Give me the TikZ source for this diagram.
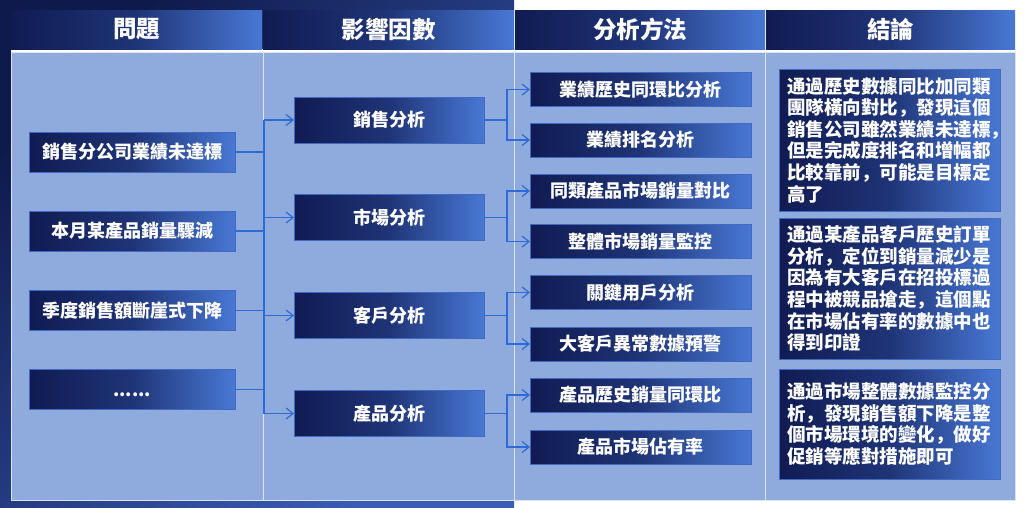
\documentclass[tikz,border=0pt]{standalone}
\usepackage{fontspec}
\setmainfont{Noto Sans CJK SC}
\usetikzlibrary{arrows.meta}
\definecolor{bgdark}{HTML}{0F1A4C}
\definecolor{bglight}{HTML}{3A5DB5}
\definecolor{navy}{HTML}{101B52}
\definecolor{midb}{HTML}{1F3477}
\definecolor{lightb}{HTML}{4878D4}
\definecolor{bodyc}{HTML}{8FAADC}
\definecolor{edgec}{HTML}{4169C4}
\definecolor{connc}{HTML}{2D6BD6}
\definecolor{divc}{HTML}{DCE4F4}
\newcommand{\bodyfont}{\fontsize{18}{21.6}\selectfont\bfseries}
\newcommand{\notefont}{\fontsize{18.5}{21.6}\selectfont\bfseries}
\newcommand{\hdrfont}{\fontsize{23.5}{26}\selectfont\bfseries}
\tikzset{
  boxnode/.style={draw=edgec, line width=0.8pt, left color=navy, right color=lightb, middle color=midb,
    text=white, font=\bodyfont, inner sep=0pt, outer sep=0pt},
  hdrnode/.style={boxnode, draw=none, font=\hdrfont, minimum height=39pt},
  probnode/.style={boxnode, minimum width=206pt, minimum height=40pt},
  factnode/.style={boxnode, minimum width=190pt, minimum height=46pt},
  methnode/.style={boxnode, minimum width=221pt, minimum height=34pt},
  notenode/.style={boxnode, minimum width=221pt, font=\notefont, text width=205pt, align=left},
  conn/.style={draw=connc, line width=1.2pt},
  arr/.style={conn, -{Straight Barb[length=7pt,width=11pt]}},
  divline/.style={draw=divc, line width=1pt}
}
\begin{document}
\begin{tikzpicture}[x=1pt,y=-1pt]
\useasboundingbox (0,0) rectangle (1024,507);
\fill[white] (0,0) rectangle (1024,507);
\shade[top color=bgdark, bottom color=bglight, shading angle=45] (0,0) rectangle (514,507);
% table body
\fill[bodyc] (11,52) rectangle (1015,500);
\fill[white] (11,49) rectangle (1015,52);
% headers
\node[hdrnode, minimum width=251pt] (h1) at (136.5,29.5) {問題};
\node[hdrnode, minimum width=251pt] (h2) at (388.5,29.5) {影響因數};
\node[hdrnode, minimum width=250pt] (h3) at (640,29.5) {分析方法};
\node[hdrnode, minimum width=249pt] (h4) at (890.5,29.5) {結論};
% dividers
\draw[divline] (263,52) -- (263,500);
\draw[divline] (514.5,10) -- (514.5,500);
\draw[divline] (765.5,52) -- (765.5,500);
\draw[divline] (11,52) rectangle (1015,500);
% column 1
\node[probnode] (p1) at (132,152) {銷售分公司業績未達標};
\node[probnode] (p2) at (132,231) {本月某產品銷量驟減};
\node[probnode] (p3) at (132,310.5) {季度銷售額斷崖式下降};
\node[probnode] (p4) at (132,389.5) {\vphantom{銷}......};
% column 2
\node[factnode] (f1) at (389,120) {銷售分析};
\node[factnode] (f2) at (389,217.5) {市場分析};
\node[factnode] (f3) at (389,315.5) {客戶分析};
\node[factnode] (f4) at (389,413.5) {產品分析};
% column 3
\node[methnode] (m1) at (640.5,89.5) {業績歷史同環比分析};
\node[methnode] (m2) at (640.5,140) {業績排名分析};
\node[methnode] (m3) at (640.5,191) {同類產品市場銷量對比};
\node[methnode] (m4) at (640.5,241.5) {整體市場銷量監控};
\node[methnode] (m5) at (640.5,292.5) {關鍵用戶分析};
\node[methnode] (m6) at (640.5,344) {大客戶異常數據預警};
\node[methnode] (m7) at (640.5,395) {產品歷史銷量同環比};
\node[methnode] (m8) at (640.5,447) {產品市場佔有率};
% column 4
\node[notenode, minimum height=142pt] (c1) at (889.5,140) {通過歷史數據同比加同類\\團隊橫向對比，發現這個\\銷售公司雖然業績未達標\makebox[0.4em][l]{，}\\但是完成度排名和增幅都\\比較靠前，可能是目標定\\高了};
\node[notenode, minimum height=141pt] (c2) at (889.5,288.5) {通過某產品客戶歷史訂單\\分析，定位到銷量減少是\\因為有大客戶在招投標過\\程中被競品搶走，這個點\\在市場佔有率的數據中也\\得到印證};
\node[notenode, minimum height=110pt] (c3) at (889.5,424) {通過市場整體數據監控分\\析，發現銷售額下降是整\\個市場環境的變化，做好\\促銷等應對措施即可};
% bus coordinates
\coordinate (bus) at (264,0);
\coordinate (br) at (507,0);
% col1 -> bus
\foreach \p in {p1,p2,p3,p4} \draw[conn] (\p.east) -- (\p.east -| bus);
\draw[conn] (f1.west -| bus) -- (f4.west -| bus);
\foreach \f in {f1,f2,f3,f4} \draw[arr] (\f.west -| bus) -- (\f.west);
% col2 -> col3
\draw[conn] (f1.east) -- (f1.east -| br);
\draw[arr] (f1.east -| br) |- (m1.west);
\draw[arr] (f1.east -| br) |- (m2.west);
\draw[conn] (f2.east) -- (f2.east -| br);
\draw[arr] (f2.east -| br) |- (m3.west);
\draw[arr] (f2.east -| br) |- (m4.west);
\draw[conn] (f3.east) -- (f3.east -| br);
\draw[arr] (f3.east -| br) |- (m5.west);
\draw[arr] (f3.east -| br) |- (m6.west);
\draw[conn] (f4.east) -- (f4.east -| br);
\draw[arr] (f4.east -| br) |- (m7.west);
\draw[arr] (f4.east -| br) |- (m8.west);
\end{tikzpicture}
\end{document}
